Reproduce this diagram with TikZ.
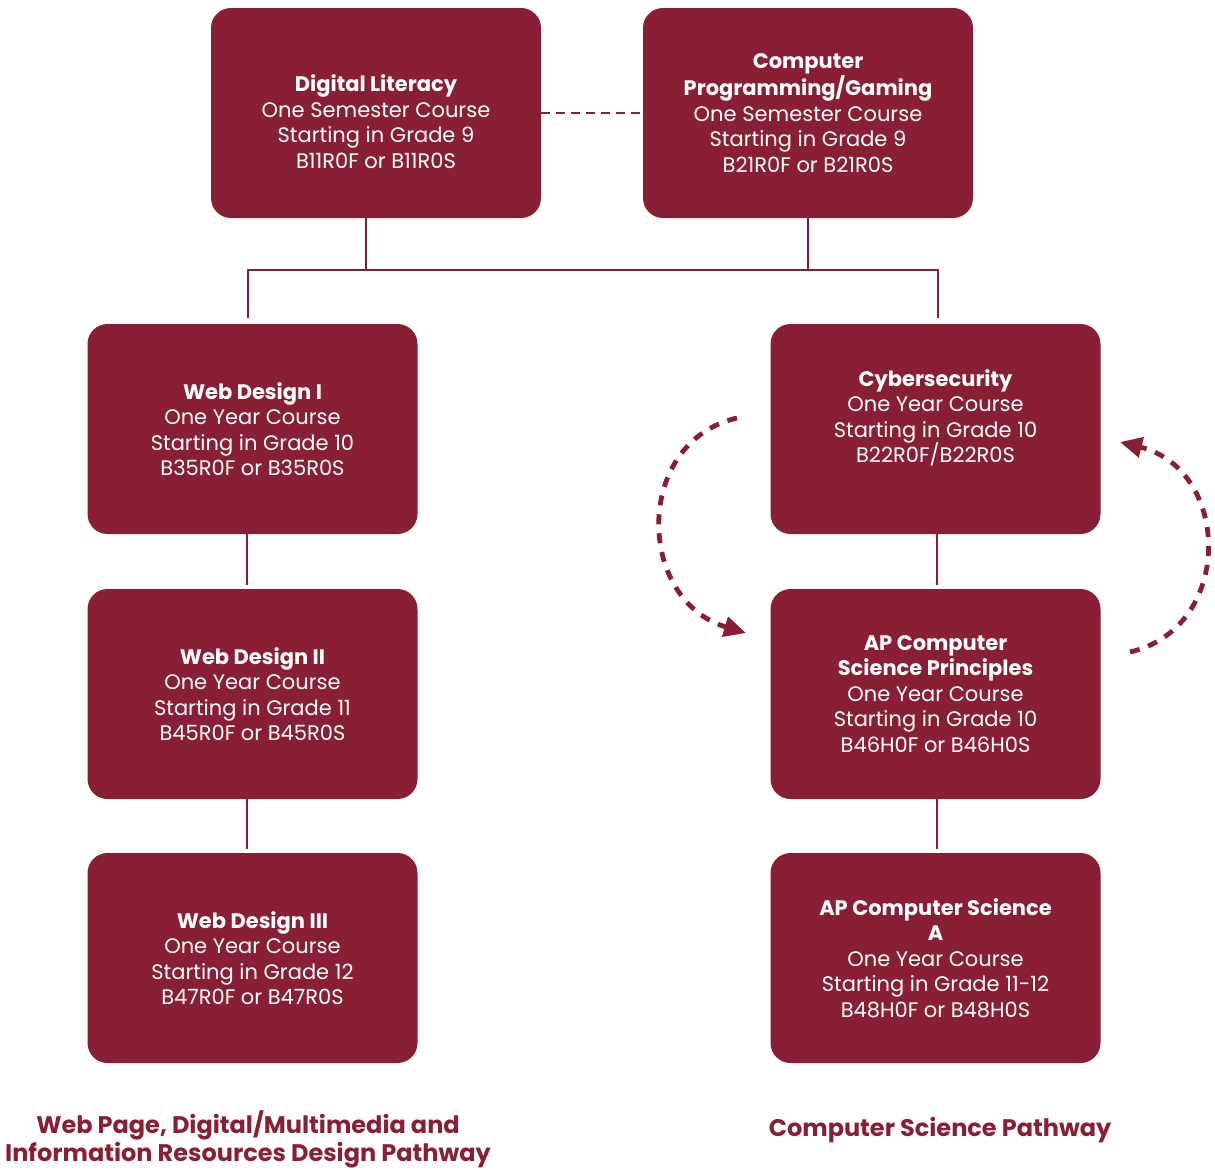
\documentclass[tikz,border=0pt]{standalone}
\usepackage{fontspec}
\setmainfont{Poppins}
\usetikzlibrary{arrows.meta}
\definecolor{maroon}{HTML}{891F35}

\tikzset{
	course/.style={fill=maroon,rounded corners=10pt,minimum width=165pt,minimum height=105pt,
		text=white,align=center,inner sep=2pt,font=\fontsize{10.5}{12.75}\selectfont},
	link/.style={draw=maroon,line width=1.3pt},
	swap/.style={draw=maroon,line width=2.4pt,dash pattern=on 5pt off 4.5pt,
		-{Triangle[length=11pt,width=10pt,fill=maroon]}},
	pathway/.style={text=maroon,align=center,font=\fontsize{12}{14}\selectfont\bfseries}
}

\begin{document}
\begin{tikzpicture}[x=0.5pt,y=-0.5pt]
	\useasboundingbox (0,0) rectangle (1215,1169);
	
	% first semester courses
	\node[course] (dl) at (376,113) {\rule{0pt}{17pt}\textbf{Digital Literacy}\\One Semester Course\\Starting in Grade 9\\B11R0F or B11R0S};
	\node[course] (cp) at (808,113) {\textbf{Computer}\\\textbf{Programming/Gaming}\\One Semester Course\\Starting in Grade 9\\B21R0F or B21R0S};
	
	% web design pathway
	\node[course] (wd1) at (252.5,429) {\textbf{Web Design I}\\One Year Course\\Starting in Grade 10\\B35R0F or B35R0S};
	\node[course] (wd2) at (252.5,694) {\textbf{Web Design II}\\One Year Course\\Starting in Grade 11\\B45R0F or B45R0S};
	\node[course] (wd3) at (252.5,958) {\textbf{Web Design III}\\One Year Course\\Starting in Grade 12\\B47R0F or B47R0S};
	
	% computer science pathway
	\node[course] (cyber) at (935.5,429) {\textbf{Cybersecurity}\\One Year Course\\Starting in Grade 10\\B22R0F/B22R0S\\[0pt]};
	\node[course] (csp) at (935.5,694) {\textbf{AP Computer}\\\textbf{Science Principles}\\One Year Course\\Starting in Grade 10\\B46H0F or B46H0S};
	\node[course] (csa) at (935.5,958) {\textbf{AP Computer Science}\\\textbf{A}\\One Year Course\\Starting in Grade 11-12\\B48H0F or B48H0S};
	
	% connectors
	\coordinate (bus) at (0,270);
	\coordinate (left) at (248,318);
	\coordinate (right) at (938,318);
	\coordinate (wdx) at (247,0);
	\coordinate (csx) at (937,0);
	\draw[link] (left) |- (bus -| right) -- (right);
	\draw[link] ([xshift=-5pt]dl.south) -- ([xshift=-5pt]dl.south |- bus);
	\draw[link] (cp.south) -- (cp.south |- bus);
	\draw[link,dash pattern=on 4.5pt off 3pt] (dl.east) -- (cp.west);
	
	\draw[link] (wd1.south -| wdx) -- ([yshift=2pt]wd2.north -| wdx);
	\draw[link] (wd2.south -| wdx) -- ([yshift=2pt]wd3.north -| wdx);
	\draw[link] (cyber.south -| csx) -- ([yshift=2pt]csp.north -| csx);
	\draw[link] (csp.south -| csx) -- ([yshift=2pt]csa.north -| csx);
	
	% either order
	\coordinate (ltop) at (737,418);
	\coordinate (lbot) at (746,633);
	\coordinate (rbot) at (1130,652);
	\coordinate (rtop) at (1120,442);
	\draw[swap] (ltop) .. controls (633,442) and (636,600) .. (lbot);
	\draw[swap] (rbot) .. controls (1234,628) and (1232,470) .. (rtop);
	
	% pathway names
	\node[pathway] (webpath) at (248,1139) {Web Page, Digital/Multimedia and\\Information Resources Design Pathway};
	\node[pathway] (cspath) at (940,1130) {Computer Science Pathway};
\end{tikzpicture}
\end{document}
